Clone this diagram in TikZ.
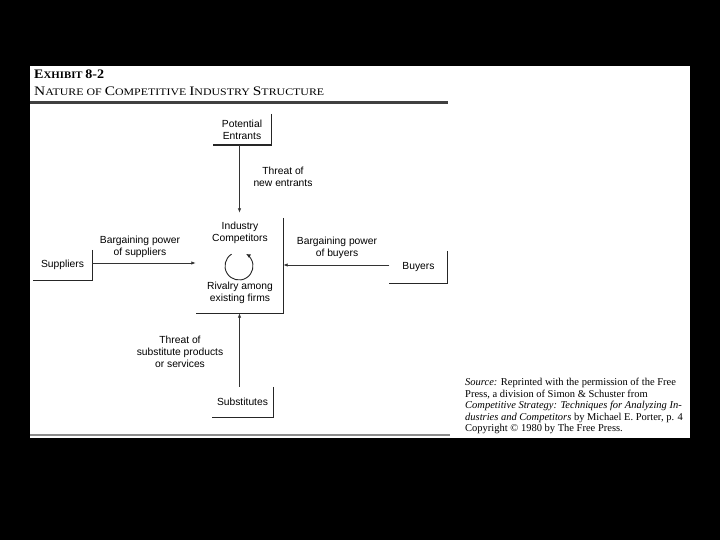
\documentclass[tikz,border=0pt]{standalone}
\usepackage{fontspec}
\setmainfont{Liberation Serif}
\newfontfamily\diagfont{Liberation Sans}
\usetikzlibrary{arrows.meta,calc}
\newcommand\scw[2]{{\fontsize{13}{13}\selectfont #1}{\fontsize{10}{10}\selectfont #2}}
\begin{document}
\begin{tikzpicture}[x=1pt,y=-1pt,
  boxnode/.style={inner sep=0pt,font=\diagfont\fontsize{10.3}{12}\selectfont,align=center},
  lbl/.style={inner sep=0pt,font=\diagfont\fontsize{10.3}{12}\selectfont,align=center},
  bracket/.style={line width=1.4pt,black!85},
  conn/.style={line width=0.8pt,black!80,-{Latex[length=4.5pt,width=3.5pt]}},
  rule/.style={line width=2.4pt,black!75}]
\fill[black] (0,0) rectangle (720,540);
\fill[white] (30,66) rectangle (690,438);
\useasboundingbox (0,0) rectangle (720,540);
% header
\node[anchor=base west,inner sep=0pt] (ex) at (34,79) {\resizebox{70pt}{\height}{\bfseries\scw{E}{XHIBIT} {\fontsize{13}{13}\selectfont 8-2}}};
\node[anchor=base west,inner sep=0pt] (title) at (34,96) {\resizebox{290pt}{\height}{\scw{N}{ATURE} \scw{}{OF} \scw{C}{OMPETITIVE} \scw{I}{NDUSTRY} \scw{S}{TRUCTURE}}};
\draw[rule] (30,102.5) -- (448,102.5);
\draw[line width=1.8pt,black!45] (30,435) -- (450,435);
% boxes
\node[boxnode,minimum width=58pt,minimum height=31pt] (ent) at (242,129.5) {Potential\\Entrants};
\node[boxnode,minimum width=59pt,minimum height=30pt] (sup) at (62.5,265) {Suppliers};
\node[minimum width=87pt,minimum height=100pt,inner sep=0pt] (ind) at (239.5,263) {};
\node[boxnode,minimum width=58pt,minimum height=32pt] (buy) at (418.5,267) {Buyers};
\node[boxnode,minimum width=61pt,minimum height=30pt] (sub) at (242.5,402) {Substitutes};
\draw[bracket] (ent.north east) -- (ent.south east) -- (ent.south west);
\draw[bracket] (sup.north east) -- (sup.south east) -- (sup.south west);
\draw[bracket] ([yshift=-5pt]ind.north east) -- (ind.south east) -- (ind.south west);
\draw[bracket] (buy.north east) -- (buy.south east) -- (buy.south west);
\draw[bracket] (sub.north east) -- (sub.south east) -- (sub.south west);
% industry contents
\node[lbl] (indt) at (240,233) {Industry\\Competitors};
\node[lbl] (riv) at (240,293) {Rivalry among\\existing firms};
\coordinate (cc) at (239,266);
\draw[line width=0.9pt,black!85,-{Latex[length=4.5pt,width=4pt]}] (cc) ++(-122:14) arc[start angle=-122,end angle=-420,radius=14];
% connectors
\draw[conn] (ent.south -| ind.north) -- (ind.north);
\draw[conn] (sub.north -| ind.south) -- (ind.south);
\draw[conn] ([yshift=2pt]sup.east) -- ([yshift=2pt]sup.east -| ind.west);
\draw[conn] ([yshift=2pt]buy.west) -- ([yshift=2pt]buy.west -| ind.east);
% labels
\node[lbl] (l1) at (283,177) {Threat of\\new entrants};
\node[lbl] (l2) at (140,247) {Bargaining power\\of suppliers};
\node[lbl] (l3) at (337,248) {Bargaining power\\of buyers};
\node[lbl] (l4) at (180,352) {Threat of\\substitute products\\or services};
% source
\node[anchor=north west,inner sep=0pt,align=left,font=\fontsize{10.5}{11.6}\selectfont] (src) at (465,378)
{\textit{Source:} Reprinted with the permission of the Free\\
Press, a division of Simon \& Schuster from\\
\textit{Competitive Strategy: Techniques for Analyzing In-}\\
\textit{dustries and Competitors} by Michael E. Porter, p. 4\\
Copyright © 1980 by The Free Press.};
\end{tikzpicture}
\end{document}
